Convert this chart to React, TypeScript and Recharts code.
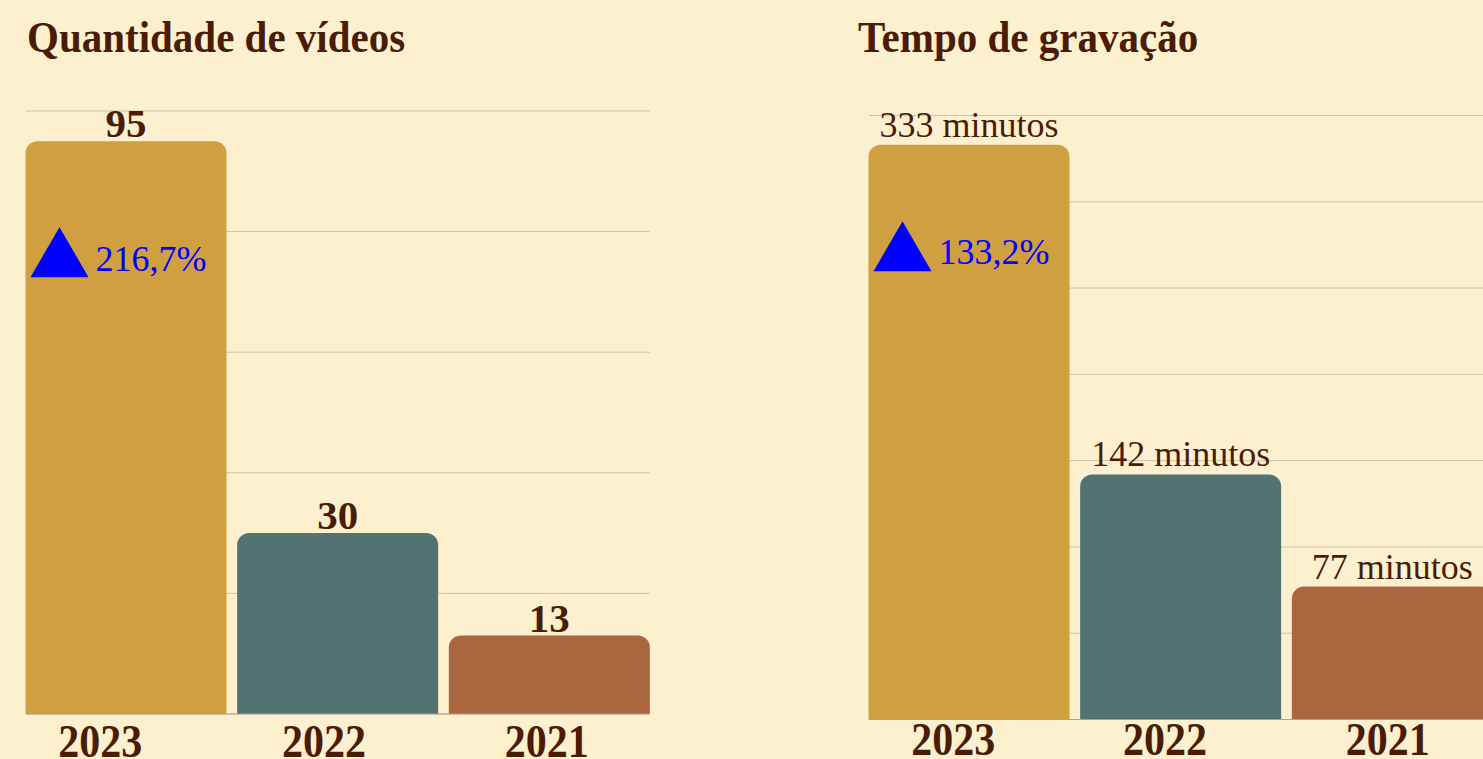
import React from "react";
import { Bar, BarChart, CartesianGrid, Cell, LabelList, XAxis, YAxis } from "recharts";

const years = ["2023", "2022", "2021"];
const videoCounts = [95, 30, 13];
const recordingMinutes = [333, 142, 77];
const minuteLabels = ["333 minutos", "142 minutos", "77 minutos"];
const videoTicks = [0, 20, 40, 60, 80, 100];
const minuteTicks = [0, 50, 100, 150, 200, 250, 300, 350];
const videoGrowth = "216,7%";
const minuteGrowth = "133,2%";

const BAR_COLORS = ["#CF9F40", "#537272", "#AB6640"];
const BG = "#FDF0CF";
const TEXT = "#4A1C06";
const GRID = "#CDC3A8";
const FONT = '"Liberation Serif", "Times New Roman", serif';

const videoData = years.map((year, i) => ({ year, value: videoCounts[i] }));
const minuteData = years.map((year, i) => ({
  year,
  value: recordingMinutes[i],
  label: minuteLabels[i],
}));

// year labels sit a bit left of the bar centres in the original, and look slightly stretched
const makeTick = (shifts: number[], dy: number) => (props: any) => {
  const { x, y, payload, index } = props;
  return (
    <g transform={`translate(${x + (shifts[index] ?? 0)},${y + dy}) scale(1,1.08)`}>
      <text
        x={0}
        y={0}
        textAnchor="middle"
        fontFamily={FONT}
        fontWeight="bold"
        fontSize={42}
        fill={TEXT}
      >
        {payload.value}
      </text>
    </g>
  );
};

// blue up-arrow + growth % drawn inside the first bar
const makeGrowth = (text: string, triTop: number, textBase: number) => (props: any) => {
  const { x, y, index } = props;
  if (index !== 0) return null;
  const top = y + triTop;
  return (
    <g>
      <polygon
        points={`${x + 34},${top} ${x + 63},${top + 50} ${x + 5},${top + 50}`}
        fill="#0000FF"
      />
      <text x={x + 70} y={y + textBase} fontFamily={FONT} fontSize={36} fill="#0000FF">
        {text}
      </text>
    </g>
  );
};

const titleStyle: React.CSSProperties = {
  position: "absolute",
  top: 17.7,
  fontFamily: FONT,
  fontWeight: "bold",
  fontSize: 41,
  lineHeight: "41px",
  color: TEXT,
  whiteSpace: "nowrap",
  transform: "scaleY(1.08)",
  transformOrigin: "0 34px",
};

export default function App() {
  return (
    <div
      style={{
        position: "absolute",
        left: 0,
        top: 0,
        width: 1483,
        height: 759,
        overflow: "hidden",
        background: BG,
      }}
    >
      <div style={{ ...titleStyle, left: 27 }}>Quantidade de vídeos</div>
      <div style={{ ...titleStyle, left: 858 }}>Tempo de gravação</div>

      <div style={{ position: "absolute", left: 0, top: 0 }}>
        <BarChart
          width={680}
          height={759}
          data={videoData}
          margin={{ top: 111, right: 30, bottom: 0, left: 26 }}
        >
          <CartesianGrid vertical={false} stroke={GRID} />
          <XAxis
            dataKey="year"
            height={45}
            padding={{ left: -5.5, right: -5.5 }}
            tickLine={false}
            axisLine={{ stroke: "#A9A290" }}
            tick={makeTick([-26, -14, -3], 35)}
            interval={0}
          />
          <YAxis hide domain={[0, 100]} ticks={videoTicks} />
          <Bar dataKey="value" barSize={201} radius={[12, 12, 0, 0]} isAnimationActive={false}>
            {videoData.map((d, i) => (
              <Cell key={d.year} fill={BAR_COLORS[i]} />
            ))}
            <LabelList
              dataKey="value"
              position="top"
              offset={4}
              fill={TEXT}
              fontFamily={FONT}
              fontWeight="bold"
              fontSize={41}
            />
            <LabelList dataKey="value" content={makeGrowth(videoGrowth, 86, 130)} />
          </Bar>
        </BarChart>
      </div>

      <div style={{ position: "absolute", left: 843, top: 0 }}>
        <BarChart
          width={680}
          height={759}
          data={minuteData}
          margin={{ top: 115.5, right: 30, bottom: 0, left: 26 }}
        >
          <CartesianGrid vertical={false} stroke={GRID} />
          <XAxis
            dataKey="year"
            height={39.5}
            padding={{ left: -5.5, right: -5.5 }}
            tickLine={false}
            axisLine={{ stroke: "#A9A290" }}
            tick={makeTick([-16, -16, -5], 27.5)}
            interval={0}
          />
          <YAxis hide domain={[0, 350]} ticks={minuteTicks} />
          <Bar dataKey="value" barSize={201} radius={[12, 12, 0, 0]} isAnimationActive={false}>
            {minuteData.map((d, i) => (
              <Cell key={d.year} fill={BAR_COLORS[i]} />
            ))}
            <LabelList
              dataKey="label"
              position="top"
              offset={8}
              fill={TEXT}
              fontFamily={FONT}
              fontSize={36}
            />
            <LabelList dataKey="value" content={makeGrowth(minuteGrowth, 76.5, 119.5)} />
          </Bar>
        </BarChart>
      </div>
    </div>
  );
}
